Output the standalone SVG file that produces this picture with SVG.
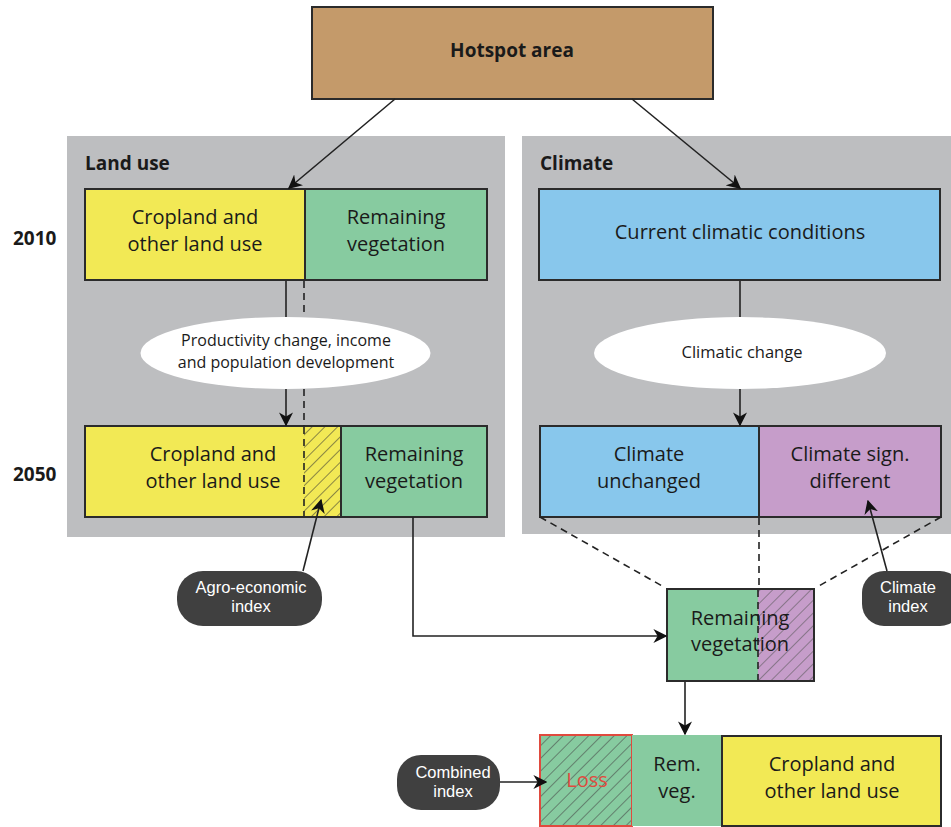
<svg xmlns="http://www.w3.org/2000/svg" width="951" height="827" viewBox="0 0 951 827">
<style>
text{font-family:"Open Sans","Liberation Sans",sans-serif;fill:#1a1a1a;text-anchor:middle}
.box{stroke:#2b2b2b;stroke-width:2}
.t20{font-size:20px}
.t15{font-size:16px}
.bold{font-weight:bold;text-anchor:start;font-size:19px}
.pill{fill:#404040}
.pt{fill:#ffffff;font-size:16.5px;font-family:"Liberation Sans",Arial,sans-serif}
.ln{stroke:#222;stroke-width:1.6;fill:none}
.dash{stroke:#222;stroke-width:1.6;fill:none;stroke-dasharray:7 5}
</style>
<defs>
<marker id="ah" viewBox="0 0 10 10" refX="9" refY="5" markerWidth="14" markerHeight="14" markerUnits="userSpaceOnUse" orient="auto">
<path d="M0,0 L10,5 L0,10 L3,5 z" fill="#111"/>
</marker>
<pattern id="hy" patternUnits="userSpaceOnUse" width="9" height="9" patternTransform="rotate(45)">
<rect width="9" height="9" fill="#f2e955"/><line x1="0" y1="0" x2="0" y2="9" stroke="#333" stroke-width="1.1"/>
</pattern>
<pattern id="hp" patternUnits="userSpaceOnUse" width="9" height="9" patternTransform="rotate(45)">
<rect width="9" height="9" fill="#c69dca"/><line x1="0" y1="0" x2="0" y2="9" stroke="#555" stroke-width="1.1"/>
</pattern>
<pattern id="hg" patternUnits="userSpaceOnUse" width="9" height="9" patternTransform="rotate(45)">
<rect width="9" height="9" fill="#87cba0"/><line x1="0" y1="0" x2="0" y2="9" stroke="#444" stroke-width="1.1"/>
</pattern>
</defs>
<rect width="951" height="827" fill="#ffffff"/>

<g id="panel-landuse">
<rect x="67" y="136" width="438" height="401" fill="#bdbec0"/>
<text class="bold" x="85" y="170">Land use</text>
</g>
<g id="panel-climate">
<rect x="522" y="136" width="429" height="398" fill="#bdbec0"/>
<text class="bold" x="540" y="170">Climate</text>
</g>
<g id="year-labels">
<text class="bold" x="13" y="245">2010</text>
<text class="bold" x="13" y="481">2050</text>
</g>

<g id="hotspot">
<rect class="box" x="312" y="7" width="401" height="92" fill="#c49a6a"/>
<text x="512" y="57" style="font-size:19px;font-weight:bold">Hotspot area</text>
</g>

<g id="crop2010">
<rect class="box" x="85" y="189" width="220" height="91" fill="#f2e955"/>
<text class="t20" x="195" y="224">Cropland and</text>
<text class="t20" x="195" y="251">other land use</text>
</g>
<g id="veg2010">
<rect class="box" x="305" y="189" width="182" height="91" fill="#87cba0"/>
<text class="t20" x="396" y="224">Remaining</text>
<text class="t20" x="396" y="251">vegetation</text>
</g>

<g id="ellipse-land">
<ellipse cx="285.5" cy="353" rx="145" ry="36" fill="#ffffff"/>
<text class="t15" x="286" y="346">Productivity change, income</text>
<text class="t15" x="286" y="368">and population development</text>
</g>

<g id="crop2050">
<rect class="box" x="85" y="426" width="256" height="91" fill="#f2e955"/>
<rect x="304" y="427" width="37" height="89" fill="url(#hy)"/>
<line class="dash" x1="304" y1="427" x2="304" y2="516"/>
<text class="t20" x="213" y="461">Cropland and</text>
<text class="t20" x="213" y="488">other land use</text>
</g>
<g id="veg2050">
<rect class="box" x="341" y="426" width="146" height="91" fill="#87cba0"/>
<text class="t20" x="414" y="461">Remaining</text>
<text class="t20" x="414" y="488">vegetation</text>
</g>

<g id="current-climate">
<rect class="box" x="539" y="189" width="401" height="91" fill="#88c7ec"/>
<text class="t20" x="740" y="239">Current climatic conditions</text>
</g>

<g id="ellipse-climate">
<ellipse cx="740" cy="353" rx="146" ry="36" fill="#ffffff"/>
<text x="742" y="358" style="font-size:16.5px">Climatic change</text>
</g>

<g id="climate-unchanged">
<rect class="box" x="540" y="426" width="219" height="91" fill="#88c7ec"/>
<text class="t20" x="649" y="461">Climate</text>
<text class="t20" x="649" y="488">unchanged</text>
</g>
<g id="climate-different">
<rect class="box" x="759" y="426" width="182" height="91" fill="#c69dca"/>
<text class="t20" x="850" y="461">Climate sign.</text>
<text class="t20" x="850" y="488">different</text>
</g>

<g id="agro-index">
<rect class="pill" x="177" y="571" width="145" height="55" rx="26"/>
<text class="pt" x="251" y="593">Agro-economic</text>
<text class="pt" x="251" y="612">index</text>
</g>

<g id="climate-index">
<rect class="pill" x="862" y="571" width="100" height="55" rx="22"/>
<text class="pt" x="908" y="593">Climate</text>
<text class="pt" x="908" y="612">index</text>
</g>

<g id="remaining-combined">
<rect class="box" x="667" y="589" width="147" height="92" fill="#87cba0"/>
<rect x="758" y="590" width="55" height="90" fill="url(#hp)"/>
<line class="dash" x1="758" y1="590" x2="758" y2="680"/>
<text class="t20" x="740" y="625">Remaining</text>
<text class="t20" x="740" y="651">vegetation</text>
</g>

<g id="combined-index">
<rect class="pill" x="397" y="755" width="103" height="55" rx="24"/>
<text class="pt" x="453" y="778">Combined</text>
<text class="pt" x="453" y="797">index</text>
</g>

<g id="loss">
<rect x="540" y="735" width="92" height="91" fill="url(#hg)" stroke="#e04a3e" stroke-width="2"/>
<text class="t20" x="587" y="787" style="fill:#e04a3e">Loss</text>
</g>
<g id="remveg">
<rect x="632" y="735" width="90" height="91" fill="#87cba0"/>
<text class="t20" x="677" y="771">Rem.</text>
<text class="t20" x="677" y="798">veg.</text>
</g>
<g id="crop-final">
<rect class="box" x="722" y="736" width="219" height="90" fill="#f2e955"/>
<text class="t20" x="832" y="771">Cropland and</text>
<text class="t20" x="832" y="798">other land use</text>
</g>

<g id="connectors">
<line class="ln" x1="395" y1="99" x2="289" y2="188" marker-end="url(#ah)"/>
<line class="ln" x1="632" y1="99" x2="740" y2="188" marker-end="url(#ah)"/>
<line class="ln" x1="286" y1="281" x2="286" y2="317"/>
<line class="ln" x1="286" y1="389" x2="286" y2="425" marker-end="url(#ah)"/>
<line class="dash" x1="304" y1="281" x2="304" y2="317"/>
<line class="dash" x1="304" y1="389" x2="304" y2="426"/>
<line class="ln" x1="740" y1="281" x2="740" y2="317"/>
<line class="ln" x1="740" y1="389" x2="740" y2="425" marker-end="url(#ah)"/>
<line class="ln" x1="303" y1="571" x2="321" y2="500" marker-end="url(#ah)"/>
<line class="ln" x1="887" y1="571" x2="868" y2="501" marker-end="url(#ah)"/>
<line class="dash" x1="540" y1="517" x2="664" y2="587"/>
<line class="dash" x1="759" y1="518" x2="759" y2="588"/>
<line class="dash" x1="941" y1="517" x2="817" y2="587"/>
<polyline class="ln" points="413,517 413,636 666,636" marker-end="url(#ah)"/>
<line class="ln" x1="685" y1="682" x2="685" y2="734" marker-end="url(#ah)"/>
<line class="ln" x1="500" y1="782" x2="546" y2="782" marker-end="url(#ah)"/>
</g>
</svg>
